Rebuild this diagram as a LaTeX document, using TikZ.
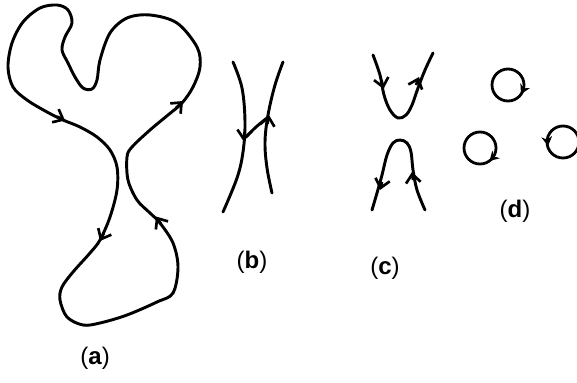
\documentclass[tikz,border=0pt]{standalone}
\usepackage{fontspec}
\setmainfont{Liberation Sans}
\usetikzlibrary{arrows.meta}
\tikzset{
  curve/.style={line width=2.2pt, line cap=round, line join=round},
  barb/.style={line width=2pt, -{Straight Barb[length=6.5pt,width=11pt]}},
  ringarr/.style={line width=1.8pt, -{Stealth[length=7pt,width=8pt]}},
  ring/.style={line width=2.1pt},
  lbl/.style={font=\fontsize{18}{20}\selectfont, inner sep=0pt}
}
\begin{document}
\begin{tikzpicture}[x=0.75pt,y=-0.75pt]
\useasboundingbox (0,0) rectangle (577,382);
% (a)
\draw[curve] plot[smooth cycle, tension=0.55] coordinates {
 (63,120) (80,127) (97,137) (110,150) (117,167) (117,190) (110,217) (100,240)
 (90,253) (73,272) (62,287) (60,300) (67,317) (83,325) (100,323) (127,315)
 (157,302) (173,293) (178,267) (173,243) (160,223) (150,213) (137,200)
 (128,180) (127,157) (132,147) (150,130) (168,115) (182,103) (193,87) (200,67)
 (197,47) (177,23) (150,15) (127,18) (110,33) (100,60) (97,80) (92,89)
 (83,88) (75,77) (68,63) (62,50) (65,37) (72,23) (68,10) (57,5) (40,8)
 (23,22) (12,43) (8,67) (13,87) (27,100) (47,112)};
\coordinate (a1s) at (57,116.5); \coordinate (a1) at (65,120.5);
\coordinate (a2s) at (104,233); \coordinate (a2) at (100,241);
\coordinate (a3s) at (161,224); \coordinate (a3) at (156,216.5);
\coordinate (a4s) at (176,108); \coordinate (a4) at (183,101);
\draw[barb] (a1s) -- (a1);
\draw[barb] (a2s) -- (a2);
\draw[barb] (a3s) -- (a3);
\draw[barb] (a4s) -- (a4);
\node[lbl] (la) at (95,358) {(\textbf{a})};
% (b)
\draw[curve] plot[smooth, tension=0.6] coordinates {(233,62) (242,88) (245,122) (243,152) (237,178) (223,212)};
\draw[curve] plot[smooth, tension=0.6] coordinates {(272,193) (267,168) (265,142) (268,115) (275,85) (283,62)};
\draw[curve] plot[smooth, tension=0.6] coordinates {(246,137) (256,127) (267,118)};
\coordinate (b1s) at (244.5,132); \coordinate (b1) at (243.5,141);
\coordinate (b2s) at (267.5,124); \coordinate (b2) at (269,115);
\draw[barb] (b1s) -- (b1);
\draw[barb] (b2s) -- (b2);
\node[lbl] (lb) at (252,262) {(\textbf{b})};
% (c)
\draw[curve] plot[smooth, tension=0.6] coordinates {(373,55) (380,75) (384,95) (390,110) (398,118) (406,115) (412,105) (418,88) (425,70) (433,53)};
\draw[curve] plot[smooth, tension=0.6] coordinates {(372,210) (377,193) (382,175) (387,155) (393,143) (400,140) (407,143) (411,152) (413,170) (417,190) (425,210)};
\coordinate (c1s) at (381.5,80); \coordinate (c1) at (383.5,89);
\coordinate (c2s) at (416,85); \coordinate (c2) at (419,77);
\coordinate (c3s) at (382,182); \coordinate (c3) at (380,190);
\coordinate (c4s) at (413,180); \coordinate (c4) at (412,172);
\draw[barb] (c1s) -- (c1);
\draw[barb] (c2s) -- (c2);
\draw[barb] (c3s) -- (c3);
\draw[barb] (c4s) -- (c4);
\node[lbl] (lc) at (385,268) {(\textbf{c})};
% (d)
\draw[ring] (508,85) circle[radius=16];
\draw[ring] (480,148) circle[radius=16];
\draw[ring] (563,142) circle[radius=16];
\coordinate (d1s) at (523.5,89); \coordinate (d1) at (521,94);
\coordinate (d2s) at (493.5,157); \coordinate (d2) at (489.5,161);
\coordinate (d3s) at (547.2,140); \coordinate (d3) at (548,146);
\draw[ringarr] (d1s) -- (d1);
\draw[ringarr] (d2s) -- (d2);
\draw[ringarr] (d3s) -- (d3);
\node[lbl] (ld) at (515,211) {(\textbf{d})};
\end{tikzpicture}
\end{document}
